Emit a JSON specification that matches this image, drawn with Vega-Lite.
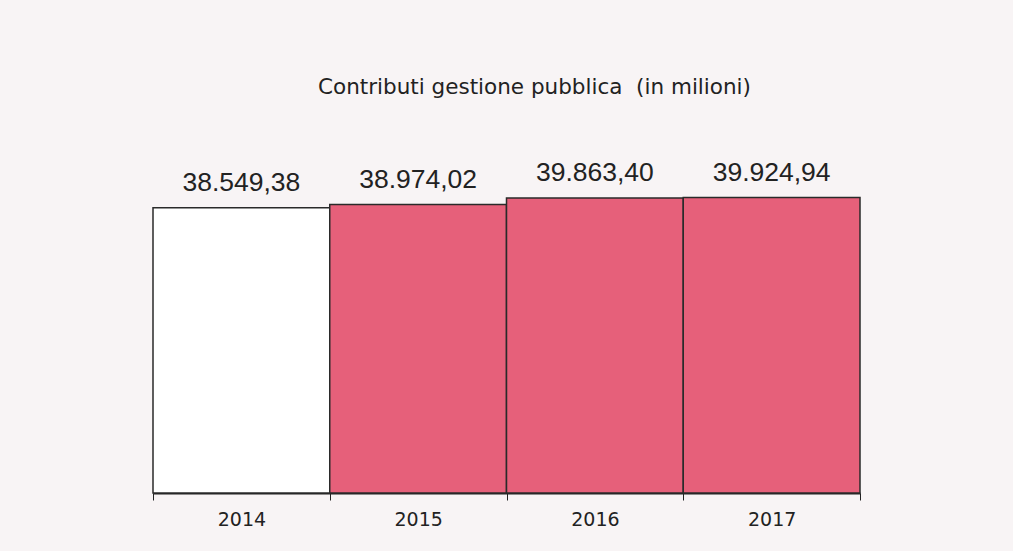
{
  "$schema": "https://vega.github.io/schema/vega-lite/v6.json",
  "autosize": "none",
  "width": 707,
  "height": 333,
  "padding": {"left": 153, "top": 160, "right": 153, "bottom": 58},
  "background": "#f8f4f5",
  "title": {
    "text": "Contributi gestione pubblica \u00a0(in milioni)",
    "font": "DejaVu Sans",
    "fontSize": 21.5,
    "fontWeight": "normal",
    "color": "#222",
    "offset": 61,
    "dx": 28
  },
  "data": {
    "values": [
      {"anno": "2014", "valore": 38549.38, "label": "38.549,38", "tipo": "base"},
      {"anno": "2015", "valore": 38974.02, "label": "38.974,02", "tipo": "altro"},
      {"anno": "2016", "valore": 39863.40, "label": "39.863,40", "tipo": "altro"},
      {"anno": "2017", "valore": 39924.94, "label": "39.924,94", "tipo": "altro"}
    ]
  },
  "encoding": {
    "x": {
      "field": "anno",
      "type": "nominal",
      "scale": {"paddingInner": 0, "paddingOuter": 0},
      "axis": {
        "title": null,
        "labelAngle": 0,
        "labelFont": "DejaVu Sans",
        "labelFontSize": 19,
        "labelColor": "#222",
        "labelPadding": 10,
        "tickBand": "extent",
        "tickSize": 7,
        "tickColor": "#222",
        "domainColor": "#222",
        "domainWidth": 2
      }
    },
    "y": {
      "field": "valore",
      "type": "quantitative",
      "scale": {"domain": [0, 45000]},
      "axis": null
    }
  },
  "layer": [
    {
      "mark": {"type": "bar", "stroke": "#2a2a2a", "strokeWidth": 1.5},
      "encoding": {
        "color": {
          "field": "tipo",
          "type": "nominal",
          "scale": {"domain": ["base", "altro"], "range": ["#ffffff", "#e6607a"]},
          "legend": null
        }
      }
    },
    {
      "mark": {"type": "text", "baseline": "bottom", "dy": -11, "font": "Liberation Sans", "fontSize": 26.5, "color": "#222"},
      "encoding": {"text": {"field": "label"}}
    }
  ],
  "config": {"view": {"stroke": null}}
}
